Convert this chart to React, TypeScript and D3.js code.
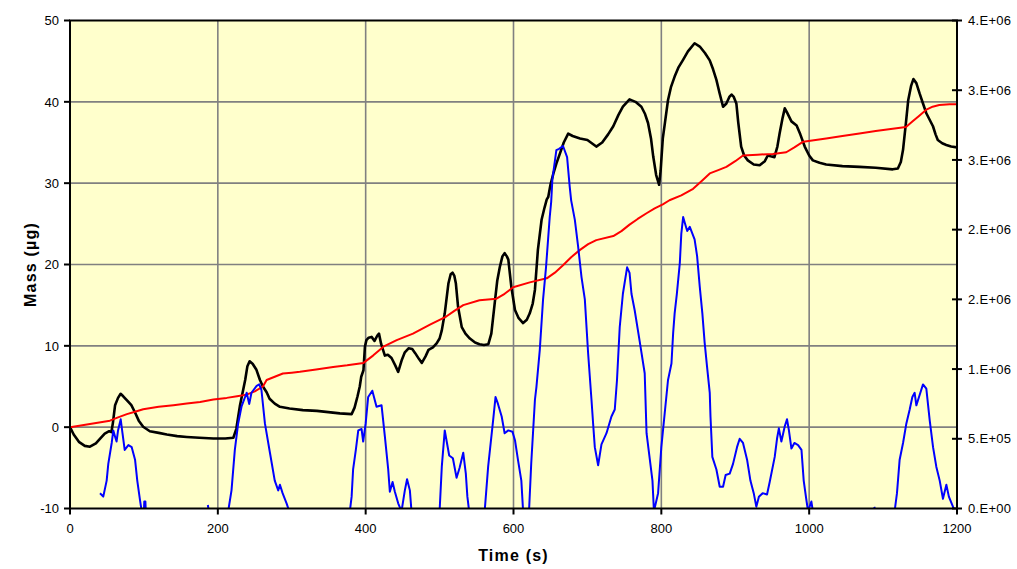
import React from "react";
import * as d3 from "d3";

// Time axis (s)
const timeTicks = [0, 200, 400, 600, 800, 1000, 1200];
// Left axis: mass (µg)
const massTicks = [-10, 0, 10, 20, 30, 40, 50];
// Right axis: signal counts, labelled with the instrument's own rounded format
const countTicks = [0, 5e5, 1e6, 1.5e6, 2e6, 2.5e6, 3e6, 3.5e6];
const countTickLabels = ["0.E+00", "5.E+05", "1.E+06", "2.E+06", "2.E+06", "3.E+06", "3.E+06", "4.E+06"];

// Net mass trace [time s, mass µg]
const massTrace: [number, number][] = [
  [0, 0], [5, -0.9], [12, -1.8], [20, -2.3], [27, -2.4], [35, -2.0], [42, -1.3], [47, -0.8], [53, -0.5], [56, -0.6],
  [58, 0.5], [61, 2.7], [65, 3.6], [68.5, 4.1], [72, 3.8], [79, 3.1], [83, 2.7], [88, 1.8], [93, 0.8], [99, 0.05],
  [108, -0.5], [120, -0.7], [131, -0.9], [145, -1.1], [158, -1.2], [175, -1.3], [194, -1.4], [210, -1.4], [221, -1.3],
  [225, -0.2], [230, 2.7], [237, 5.8], [240, 7.5], [243, 8.1], [247, 7.8], [252, 7.1], [257, 5.8], [261, 5.0],
  [266, 4.3], [270, 3.5], [277, 2.9], [284, 2.5], [297, 2.3], [315, 2.1], [334, 2.0], [365, 1.7], [381, 1.6],
  [385, 2.4], [389, 3.8], [392, 5.0], [394, 6.2], [397, 7.0], [399, 9.9], [401, 10.7], [404, 11.0], [408, 11.1],
  [412, 10.6], [416, 11.3], [418, 11.5], [421, 10.2], [426, 8.8], [430, 8.9], [435, 8.5], [440, 7.6], [444, 6.8],
  [449, 8.3], [453, 9.2], [458, 9.7], [463, 9.6], [467, 9.1], [472, 8.4], [476, 7.9], [481, 8.7], [485, 9.5],
  [491, 9.8], [496, 10.3], [500, 10.9], [503, 11.9], [507, 14.0], [512, 17.7], [515, 18.8], [517.5, 19.0],
  [520, 18.6], [522, 17.7], [525, 14.8], [530, 12.3], [535, 11.5], [541, 10.9], [548, 10.4], [554, 10.2],
  [560, 10.1], [566, 10.2], [570, 11.5], [575, 15.6], [578, 18.0], [581.5, 19.7], [585, 21.0], [588, 21.4],
  [591, 21.0], [593, 20.6], [597, 17.3], [602, 14.4], [607, 13.4], [613, 12.8], [618, 13.2], [622, 14.0],
  [626, 15.2], [629, 16.9], [633, 21.8], [638, 25.5], [642, 27.0], [645, 28.0], [647, 28.3], [650, 29.8],
  [654, 31.2], [658, 32.4], [663, 33.7], [668, 35.0], [674, 36.1], [680, 35.8], [690, 35.5], [700, 35.3],
  [712, 34.5], [720, 35.0], [728, 36.0], [735, 37.0], [742, 38.4], [748, 39.4], [757, 40.3], [765, 40.0],
  [773, 39.4], [778, 38.5], [782, 37.4], [786, 35.5], [789, 33.3], [793, 31.0], [797, 29.8], [799, 31.5],
  [802, 35.5], [805, 37.5], [809, 40.2], [813, 41.8], [818, 43.1], [823, 44.2], [829, 45.1], [836, 46.2],
  [845, 47.2], [852, 46.8], [859, 46.0], [865.5, 45.1], [870, 44.0], [874.5, 42.7], [879, 41.0], [883.5, 39.4],
  [888, 39.8], [892, 40.6], [895, 40.9], [898, 40.6], [901.5, 39.8], [904, 37.5], [908, 34.5], [912, 33.4],
  [917, 32.8], [925, 32.3], [933, 32.2], [940, 32.7], [944, 33.4], [948, 33.3], [953, 33.2], [957, 34.5],
  [960, 36.1], [964, 38.0], [967, 39.2], [970, 38.7], [976, 37.6], [983, 37.1], [988, 36.0], [994, 34.5],
  [1000, 33.4], [1005, 32.8], [1014, 32.5], [1023, 32.3], [1045, 32.1], [1068, 32.0], [1090, 31.9], [1113, 31.7],
  [1120, 31.8], [1124, 32.6], [1127, 34.1], [1131, 37.5], [1134, 40.2], [1138, 42.0], [1141, 42.8], [1145, 42.3],
  [1149.5, 41.0], [1154, 39.8], [1158.5, 38.6], [1163, 37.8], [1167.5, 37.0], [1171, 36.0], [1174, 35.3],
  [1180, 34.9], [1185.5, 34.7], [1192, 34.5], [1200, 34.4],
];

// Cumulative mass [time s, mass µg]
const cumulativeTrace: [number, number][] = [
  [0, 0], [27, 0.4], [54, 0.8], [65, 1.2], [77, 1.6], [88, 1.9], [99, 2.2], [120, 2.5], [140, 2.7], [158, 2.9],
  [176, 3.1], [194, 3.4], [212, 3.6], [226, 3.8], [239, 4.0], [250, 4.4], [261, 5.0], [266, 5.8], [277, 6.2],
  [288, 6.6], [300, 6.7], [311, 6.8], [333, 7.1], [356, 7.4], [375, 7.6], [397, 7.9], [410, 8.8], [424, 9.9],
  [442, 10.7], [464, 11.5], [487, 12.6], [509, 13.6], [520, 14.3], [532, 15.0], [554, 15.6], [577, 15.8],
  [588, 16.4], [599.5, 17.2], [622, 17.8], [645, 18.3], [656, 19.0], [667, 19.9], [678, 20.9], [690, 21.8],
  [701, 22.5], [712, 23.0], [735, 23.5], [746, 24.1], [757, 24.9], [768, 25.6], [780, 26.3], [791, 26.9],
  [802, 27.4], [811, 27.9], [827, 28.5], [843, 29.3], [855, 30.3], [865.5, 31.2], [877, 31.6], [888, 32.0],
  [900, 32.7], [910.5, 33.4], [930, 33.5], [951, 33.6], [969, 33.8], [980, 34.4], [992, 35.1], [1023, 35.5],
  [1045, 35.8], [1068, 36.1], [1090, 36.4], [1113, 36.7], [1131, 36.9], [1140, 37.6], [1149, 38.3], [1158, 39.0],
  [1167, 39.4], [1176, 39.6], [1190, 39.7], [1200, 39.7],
];

// Signal counts on the right axis [time s, counts]; null marks a gap with no reading
const countTrace: [number, number | null][] = [
  [40.6, 1.09e5], [45, 0.85e5], [49.6, 2.0e5], [51.8, 3.2e5], [56.4, 4.7e5], [58.6, 5.6e5], [61, 5.15e5],
  [63, 4.8e5], [65, 5.6e5], [68.6, 6.4e5], [71, 5.4e5], [74, 4.2e5], [79, 4.55e5], [83.5, 4.4e5], [88, 3.5e5],
  [91, 2.0e5], [94.7, 0.6e5], [97, -0.2e5], [100, -0.2e5], [100.5, 0.5e5], [102, 0.5e5], [102.5, -0.2e5],
  [103, null],
  [186.5, 0.25e5], [187.5, -0.1e5],
  [188, null],
  [214, -0.2e5], [218.5, 1.3e5], [223, 4.2e5], [227.5, 6.1e5], [232, 7.3e5], [239, 8.3e5], [242.5, 7.5e5],
  [245.5, 8.3e5], [252.5, 8.8e5], [256, 8.9e5], [259, 8.5e5], [263.7, 6.1e5], [270.5, 4.0e5], [277, 2.0e5],
  [281.7, 1.3e5], [284, 1.7e5], [287.6, 1.1e5], [293, 0.37e5], [296.6, -0.2e5],
  [297, null],
  [378.6, -0.2e5], [381, 0.85e5], [383, 2.8e5], [386.7, 4.2e5], [390, 5.6e5], [394.5, 5.7e5], [396.6, 4.8e5],
  [400, 6.1e5], [403.4, 8.0e5], [409, 8.45e5], [414.7, 7.3e5], [421.5, 7.4e5], [426, 5.15e5], [430.5, 2.8e5],
  [432.7, 1.2e5], [436.4, 1.9e5], [439.5, 1.2e5], [444, 0.37e5], [448.5, -0.2e5], [453, 1.3e5], [456, 2.1e5],
  [459.8, 1.3e5], [462, -0.2e5],
  [463, null],
  [500, -0.2e5], [503, 3.0e5], [507, 5.6e5], [510, 4.7e5], [513, 3.8e5], [518, 3.6e5], [523, 2.2e5], [527, 2.9e5],
  [532, 4.0e5], [535.5, 2.5e5], [537.6, 0.85e5], [540, -0.2e5],
  [541, null],
  [561, -0.2e5], [565.7, 3.0e5], [572.5, 6.35e5], [575.7, 8.0e5], [579, 7.5e5], [584, 6.6e5], [588, 5.4e5],
  [593, 5.6e5], [598.6, 5.5e5], [602, 4.9e5], [606, 3.5e5], [610.6, 2.0e5], [613, -0.2e5],
  [614, null],
  [621, -0.2e5], [624, 3.25e5], [629, 7.8e5], [631, 8.7e5], [635.6, 1.14e6], [640, 1.5e6], [644, 1.73e6],
  [649, 2.09e6], [651, 2.2e6], [652.6, 2.36e6], [658, 2.57e6], [661.7, 2.58e6], [667, 2.6e6], [672.5, 2.52e6],
  [676, 2.31e6], [678, 2.21e6], [683, 2.07e6], [687.4, 1.88e6], [692, 1.66e6], [696.5, 1.5e6], [701, 1.11e6],
  [705.5, 7.8e5], [707.7, 6.1e5], [710, 4.4e5], [714.5, 3.1e5], [719, 4.6e5], [725.8, 5.4e5], [732.5, 6.6e5],
  [737, 7.1e5], [740, 9.2e5], [743.7, 1.3e6], [748, 1.54e6], [753.7, 1.73e6], [757, 1.69e6], [759.6, 1.54e6],
  [764, 1.42e6], [771, 1.19e6], [777.5, 9.7e5], [780, 5.4e5], [788, 2.0e5], [790, -0.2e5], [795.6, 1.1e5],
  [800, 4.4e5], [809, 9.2e5], [813.7, 1.04e6], [816, 1.26e6], [818, 1.4e6], [821, 1.54e6], [825, 1.76e6],
  [827, 1.97e6], [829.5, 2.09e6], [831.7, 2.05e6], [835, 1.99e6], [838.5, 2.02e6], [845, 1.93e6],
  [848.4, 1.81e6], [852, 1.59e6], [855.5, 1.4e6], [858.6, 1.19e6], [861.8, 1.02e6], [865.5, 8.3e5],
  [866.5, 6.6e5], [869, 3.7e5], [874.5, 2.8e5], [879, 1.56e5], [883.5, 1.56e5], [887, 2.4e5], [892.5, 2.5e5],
  [897, 3.2e5], [902.4, 4.4e5], [906, 5.0e5], [910.5, 4.7e5], [916, 3.5e5], [920.5, 2.0e5], [925, 1.1e5],
  [928.5, 0.13e5], [932, 0.85e5], [937, 1.1e5], [943, 1.0e5], [946.6, 1.9e5], [953.4, 3.7e5], [956.5, 5.0e5],
  [959, 5.75e5], [962.4, 4.8e5], [967, 5.9e5], [970, 6.4e5], [972.6, 5.6e5], [976, 4.3e5], [980, 4.7e5],
  [985, 4.55e5], [989.6, 4.2e5], [992.6, 2.0e5], [996, 0.7e5], [998.5, -0.2e5], [1003, 0.5e5], [1005, -0.2e5],
  [1006, null],
  [1088, 0.12e5], [1089.5, -0.1e5],
  [1090, null],
  [1115.6, -0.2e5], [1118.8, 1.1e5], [1122.4, 3.5e5], [1127, 4.7e5], [1131.5, 6.1e5], [1136, 7.1e5],
  [1139.6, 8.0e5], [1142.7, 8.3e5], [1145, 7.4e5], [1148.6, 8.0e5], [1154, 8.9e5], [1158.5, 8.6e5],
  [1163, 6.35e5], [1167.6, 4.4e5], [1172, 3.0e5], [1176.6, 2.0e5], [1181, 0.7e5], [1185.6, 1.7e5],
  [1189, 0.85e5], [1194.5, 0.13e5], [1197, -0.2e5],
];

const W = 1017;
const H = 569;
const plot = { left: 70, right: 957, top: 20.5, bottom: 508.5 };
const FONT = "Arial, 'Liberation Sans', Helvetica, sans-serif";

export default function App() {
  const x = d3.scaleLinear().domain([0, 1200]).range([plot.left, plot.right]);
  const yMass = d3.scaleLinear().domain([-10, 50]).range([plot.bottom, plot.top]);
  const yCount = d3.scaleLinear().domain([0, 3.5e6]).range([plot.bottom, plot.top]);

  const massLine = d3
    .line<[number, number]>()
    .x((d) => x(d[0]))
    .y((d) => yMass(d[1]));
  const countLine = d3
    .line<[number, number | null]>()
    .defined((d) => d[1] !== null)
    .x((d) => x(d[0]))
    .y((d) => yCount(d[1] as number));

  const pw = plot.right - plot.left;
  const ph = plot.bottom - plot.top;

  return (
    <svg
      width={W}
      height={H}
      style={{ position: "absolute", left: 0, top: 0, background: "#ffffff" }}
      fontFamily={FONT}
    >
      <defs>
        <clipPath id="plot-clip">
          <rect x={plot.left} y={plot.top} width={pw} height={ph} />
        </clipPath>
      </defs>

      <rect x={plot.left} y={plot.top} width={pw} height={ph} fill="#FFFFCC" />

      {/* gridlines */}
      <g stroke="#808080" strokeWidth={1.6}>
        {timeTicks.slice(1, -1).map((t) => (
          <line key={`gx${t}`} x1={x(t)} x2={x(t)} y1={plot.top} y2={plot.bottom} />
        ))}
        {massTicks.slice(1, -1).map((v) => (
          <line key={`gy${v}`} x1={plot.left} x2={plot.right} y1={yMass(v)} y2={yMass(v)} />
        ))}
      </g>

      <g clipPath="url(#plot-clip)" fill="none" strokeLinejoin="round">
        <path d={massLine(massTrace) ?? ""} stroke="#000000" strokeWidth={2.6} />
        <path d={massLine(cumulativeTrace) ?? ""} stroke="#FF0000" strokeWidth={2} />
        <path d={countLine(countTrace) ?? ""} stroke="#0000FF" strokeWidth={2} />
      </g>

      {/* frame */}
      <rect x={plot.left} y={plot.top} width={pw} height={ph} fill="none" stroke="#000" strokeWidth={2} />

      {/* left axis */}
      <g fontSize={13} fill="#000">
        {massTicks.map((v) => (
          <g key={`l${v}`}>
            <line x1={plot.left - 6} x2={plot.left} y1={yMass(v)} y2={yMass(v)} stroke="#000" strokeWidth={2} />
            <text x={plot.left - 11} y={yMass(v)} dy="0.36em" textAnchor="end">
              {v}
            </text>
          </g>
        ))}
      </g>

      {/* bottom axis */}
      <g fontSize={13} fill="#000">
        {timeTicks.map((t) => (
          <g key={`b${t}`}>
            <line x1={x(t)} x2={x(t)} y1={plot.bottom} y2={plot.bottom + 6} stroke="#000" strokeWidth={2} />
            <text x={x(t)} y={plot.bottom + 24} textAnchor="middle">
              {t}
            </text>
          </g>
        ))}
      </g>

      {/* right axis */}
      <g fontSize={13} fill="#000">
        {countTicks.map((c, i) => (
          <g key={`r${i}`}>
            <line x1={plot.right - 5} x2={plot.right + 5} y1={yCount(c)} y2={yCount(c)} stroke="#000" strokeWidth={2} />
            <text x={plot.right + 11} y={yCount(c)} dy="0.36em" textAnchor="start" letterSpacing={0.3}>
              {countTickLabels[i]}
            </text>
          </g>
        ))}
      </g>

      {/* axis titles */}
      <text
        x={(plot.left + plot.right) / 2}
        y={561}
        textAnchor="middle"
        fontSize={16}
        fontWeight="bold"
        letterSpacing={1.2}
      >
        Time (s)
      </text>
      <text
        transform={`translate(36, ${(plot.top + plot.bottom) / 2}) rotate(-90)`}
        textAnchor="middle"
        fontSize={16}
        fontWeight="bold"
        letterSpacing={1.2}
      >
        Mass (µg)
      </text>
    </svg>
  );
}
